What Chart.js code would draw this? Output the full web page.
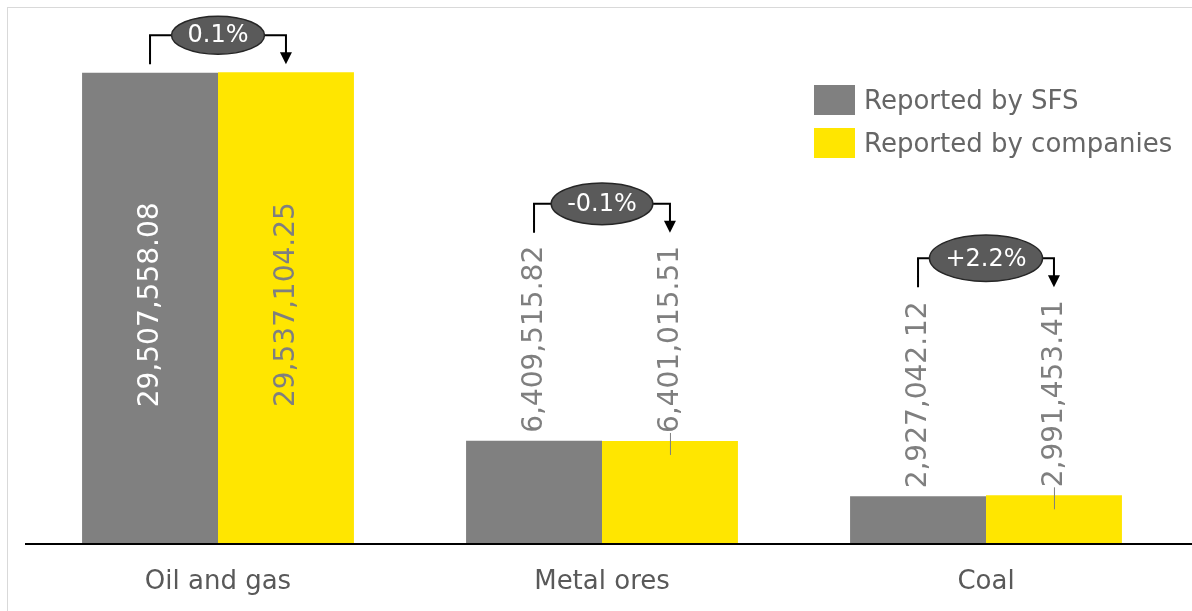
<!DOCTYPE html>
<html lang="en">
<head>
<meta charset="UTF-8">
<title>SFS vs companies</title>
<style>
    body { margin: 0; background: #FFFFFF; overflow: hidden; }
    .frame {
        position: absolute; left: 7px; top: 7px; width: 1300px; height: 700px;
        border-left: 1px solid #D9D9D9; border-top: 1px solid #D9D9D9;
    }
    .wrap { position: absolute; left: 0; top: 0; width: 1192px; height: 611px; }
</style>
</head>
<body>
<div class="frame"></div>
<div class="wrap"><canvas id="chart" width="1192" height="611"></canvas></div>
<script src="https://cdn.jsdelivr.net/npm/chart.js"></script>
<script>
// values
const categories = ['Oil and gas', 'Metal ores', 'Coal'];
const seriesNames = ['Reported by SFS', 'Reported by companies'];
const sfsValues = [29507558.08, 6409515.82, 2927042.12];
const companyValues = [29537104.25, 6401015.51, 2991453.41];
const changeLabels = ['0.1%', '-0.1%', '+2.2%'];

const GREY = '#808080';
const YELLOW = '#FFE600';
const FONT = "'DejaVu Sans', sans-serif";

function fmt(v) {
    return v.toLocaleString('en-US', { minimumFractionDigits: 2, maximumFractionDigits: 2 });
}

// value labels, brackets with % change, legend and the axis line
const overlay = {
    id: 'overlay',
    afterDatasetsDraw(chart) {
        const ctx = chart.ctx;
        const area = chart.chartArea;
        const labelFont = '28px ' + FONT;
        const tops = categories.map(() => []);

        ctx.save();
        ctx.font = labelFont;
        chart.data.datasets.forEach((ds, di) => {
            chart.getDatasetMeta(di).data.forEach((bar, i) => {
                const txt = fmt(ds.data[i]);
                const w = ctx.measureText(txt).width;
                const h = bar.base - bar.y;
                ctx.save();
                ctx.translate(bar.x, 0);
                ctx.rotate(-Math.PI / 2);
                ctx.textBaseline = 'middle';
                if (w + 40 < h) {
                    // fits inside: centred
                    ctx.textAlign = 'center';
                    ctx.fillStyle = di === 0 ? '#FFFFFF' : '#7F7F7F';
                    ctx.fillText(txt, -(bar.y + bar.base) / 2 + 3, 1);
                    tops[i].push(bar.y - 8);
                } else {
                    ctx.textAlign = 'left';
                    ctx.fillStyle = '#7F7F7F';
                    ctx.fillText(txt, -(bar.y - 8), 1);
                    tops[i].push(bar.y - 8 - w - 13);
                }
                ctx.restore();
                if (di === 1 && w + 40 >= h) {
                    // small leader tick
                    ctx.strokeStyle = '#7F7F7F';
                    ctx.lineWidth = 1;
                    ctx.beginPath();
                    ctx.moveTo(bar.x + 0.5, bar.y - 8);
                    ctx.lineTo(bar.x + 0.5, bar.y + 14);
                    ctx.stroke();
                }
            });
        });

        // brackets
        const m0 = chart.getDatasetMeta(0).data;
        const m1 = chart.getDatasetMeta(1).data;
        categories.forEach((c, i) => {
            const bottom = Math.min.apply(null, tops[i]);
            const cy = bottom - 29;
            const x0 = m0[i].x, x1 = m1[i].x;
            const cx = (x0 + x1) / 2;
            ctx.font = '24px ' + FONT;
            const tw = ctx.measureText(changeLabels[i]).width;
            const rx = tw / 2 + 16;
            const ry = rx * 0.41;

            ctx.strokeStyle = '#000000';
            ctx.lineWidth = 2;
            ctx.beginPath();
            ctx.moveTo(x0, bottom);
            ctx.lineTo(x0, cy);
            ctx.lineTo(x1, cy);
            ctx.lineTo(x1, bottom - 11);
            ctx.stroke();
            ctx.fillStyle = '#000000';
            ctx.beginPath();
            ctx.moveTo(x1 - 6, bottom - 12);
            ctx.lineTo(x1 + 6, bottom - 12);
            ctx.lineTo(x1, bottom);
            ctx.closePath();
            ctx.fill();

            ctx.beginPath();
            ctx.ellipse(cx, cy, rx, ry, 0, 0, Math.PI * 2);
            ctx.fillStyle = '#5A5A5A';
            ctx.fill();
            ctx.lineWidth = 1.5;
            ctx.strokeStyle = '#262626';
            ctx.stroke();
            ctx.fillStyle = '#FFFFFF';
            ctx.textAlign = 'center';
            ctx.textBaseline = 'middle';
            ctx.fillText(changeLabels[i], cx, cy + 1);
        });

        // axis line running to the right edge
        ctx.strokeStyle = '#000000';
        ctx.lineWidth = 2;
        ctx.beginPath();
        ctx.moveTo(area.left - 1, area.bottom + 1);
        ctx.lineTo(chart.width, area.bottom + 1);
        ctx.stroke();

        // legend
        ctx.font = '26px ' + FONT;
        ctx.textAlign = 'left';
        ctx.textBaseline = 'middle';
        chart.data.datasets.forEach((ds, di) => {
            const y = 100 + di * 43;
            ctx.fillStyle = ds.backgroundColor;
            ctx.fillRect(814, y - 15, 41, 30);
            ctx.fillStyle = '#666666';
            ctx.fillText(seriesNames[di], 864, y + 2);
        });
        ctx.restore();
    }
};

new Chart(document.getElementById('chart'), {
    type: 'bar',
    data: {
        labels: categories,
        datasets: [
            { label: seriesNames[0], data: sfsValues, backgroundColor: GREY },
            { label: seriesNames[1], data: companyValues, backgroundColor: YELLOW }
        ]
    },
    options: {
        responsive: false,
        animation: false,
        devicePixelRatio: 1,
        layout: { padding: { left: 26, right: 14, top: 17, bottom: 0 } },
        datasets: { bar: { categoryPercentage: 0.708, barPercentage: 1 } },
        plugins: { legend: { display: false }, tooltip: { enabled: false } },
        scales: {
            x: {
                grid: { display: false },
                border: { display: false },
                ticks: { color: '#595959', padding: 16, font: { family: FONT, size: 26 } },
                afterFit(scale) { scale.height = 68; }
            },
            y: { display: false, min: 0, max: 33000000 }
        }
    },
    plugins: [overlay]
});
</script>
</body>
</html>
